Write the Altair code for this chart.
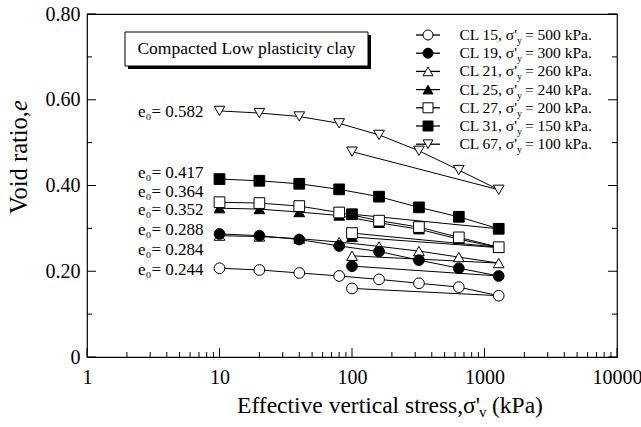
import altair as alt
import pandas as pd

# ---------------- data ----------------
stress = [10, 20, 40, 80, 160, 320, 640, 1280, 100]   # loading path then unloading to 100 kPa

cl15 = [0.207, 0.203, 0.196, 0.189, 0.181, 0.172, 0.163, 0.143, 0.160]
cl19 = [0.287, 0.283, 0.274, 0.259, 0.246, 0.226, 0.207, 0.189, 0.212]
cl21 = [0.283, 0.281, 0.276, 0.268, 0.258, 0.247, 0.233, 0.219, 0.236]
cl25 = [0.347, 0.345, 0.338, 0.330, 0.313, 0.298, 0.275, 0.255, 0.280]
cl27 = [0.361, 0.359, 0.352, 0.337, 0.318, 0.303, 0.279, 0.256, 0.289]
cl31 = [0.415, 0.411, 0.404, 0.391, 0.374, 0.349, 0.327, 0.299, 0.333]
cl67 = [0.574, 0.569, 0.561, 0.545, 0.518, 0.481, 0.436, 0.390, 0.479]

series_names = ["CL 15", "CL 19", "CL 21", "CL 25", "CL 27", "CL 31", "CL 67"]
series_values = [cl15, cl19, cl21, cl25, cl27, cl31, cl67]
sigma_y = ["500", "300", "260", "240", "200", "150", "100"]
shapes = ["circle", "circle", "triangle-up", "triangle-up", "square", "square", "triangle-down"]
fills = ["white", "black", "white", "black", "white", "black", "white"]
draw_order = ["CL 21", "CL 19", "CL 15", "CL 25", "CL 27", "CL 31", "CL 67"]

e0_labels = ["e\u2080= 0.582", "e\u2080= 0.417", "e\u2080= 0.364", "e\u2080= 0.352",
             "e\u2080= 0.288", "e\u2080= 0.284", "e\u2080= 0.244"]
e0_label_y = [0.572, 0.429, 0.386, 0.342, 0.296, 0.250, 0.203]

x_major = [1, 10, 100, 1000, 10000]
x_minor = [m * 10 ** k for k in range(4) for m in range(2, 10)]
y_major = [0, 0.2, 0.4, 0.6, 0.8]
y_minor = [0.1, 0.3, 0.5, 0.7]

FONT = "Liberation Serif"
W, H = 530, 343

rows = []
for name in draw_order:
    vals = series_values[series_names.index(name)]
    for step, (s, e) in enumerate(zip(stress, vals)):
        rows.append({"series": name, "step": step, "stress": s, "e": e})
df = pd.DataFrame(rows)

xs = alt.Scale(type="log", domain=[1, 10000], nice=False)
ys = alt.Scale(domain=[0, 0.8], nice=False, zero=False)
xaxis = alt.Axis(values=x_major, labelExpr="format(datum.value, 'd')", ticks=False,
                 domain=False, grid=False, title=None, labelFont=FONT, labelFontSize=20,
                 labelColor="black", labelPadding=10, labelFlush=False)
yaxis = alt.Axis(values=y_major,
                 labelExpr="datum.value == 0 ? '0' : format(datum.value, '.2f')",
                 ticks=False, domain=False, grid=False, title=None, labelFont=FONT,
                 labelFontSize=20, labelColor="black", labelPadding=7, labelFlush=False)


def X(field="stress"):
    return alt.X(f"{field}:Q", scale=xs, axis=xaxis)


def Y(field="e"):
    return alt.Y(f"{field}:Q", scale=ys, axis=yaxis)


shape_enc = alt.Shape("series:N", scale=alt.Scale(domain=series_names, range=shapes), legend=None)
fill_enc = alt.Fill("series:N", scale=alt.Scale(domain=series_names, range=fills), legend=None)

lines = alt.Chart(df).mark_line(color="black", strokeWidth=1).encode(
    x=X(), y=Y(), detail="series:N", order="step:Q")
points = alt.Chart(df).mark_point(filled=True, stroke="black", strokeWidth=1, size=115,
                                  opacity=1).encode(x=X(), y=Y(), shape=shape_enc, fill=fill_enc)

# inward ticks
xt_major = pd.DataFrame({"stress": x_major})
xt_minor = pd.DataFrame({"stress": x_minor})
yt_major = pd.DataFrame({"e": y_major})
yt_minor = pd.DataFrame({"e": y_minor})
tick_layers = [
    alt.Chart(xt_major).mark_rule(color="black").encode(x=X(), y=alt.value(H), y2=alt.value(H - 9)),
    alt.Chart(xt_minor).mark_rule(color="black").encode(x=X(), y=alt.value(H), y2=alt.value(H - 5)),
    alt.Chart(yt_major).mark_rule(color="black").encode(y=Y(), x=alt.value(0), x2=alt.value(9)),
    alt.Chart(yt_minor).mark_rule(color="black").encode(y=Y(), x=alt.value(0), x2=alt.value(5)),
    alt.Chart(yt_major).mark_rule(color="black").encode(y=Y(), x=alt.value(W), x2=alt.value(W - 9)),
    alt.Chart(yt_minor).mark_rule(color="black").encode(y=Y(), x=alt.value(W), x2=alt.value(W - 5)),
]

# e0 annotations
ann = pd.DataFrame({"label": e0_labels, "e": e0_label_y, "stress": [10] * len(e0_labels)})
ann_layer = alt.Chart(ann).mark_text(align="right", baseline="middle", font=FONT, fontSize=17,
                                     dx=-16, color="black").encode(x=X(), y=Y(), text="label:N")

# title box
one = pd.DataFrame({"t": ["Compacted Low plasticity clay"]})
box_shadow = alt.Chart(one).mark_rect(fill="black").encode(
    x=alt.value(41), x2=alt.value(284), y=alt.value(21), y2=alt.value(55))
box = alt.Chart(one).mark_rect(fill="white", stroke="black", strokeWidth=1).encode(
    x=alt.value(38), x2=alt.value(281), y=alt.value(18), y2=alt.value(52))
box_text = alt.Chart(one).mark_text(font=FONT, fontSize=17.5, color="black", baseline="middle",
                                    align="center").encode(x=alt.value(159.5), y=alt.value(35), text="t:N")

# legend
leg = pd.DataFrame({"series": series_names,
                    "a": [f"{n}, \u03c3'" for n in series_names],
                    "b": [f"= {v} kPa." for v in sigma_y],
                    "row": list(range(len(series_names)))})
legend_layers = []
for i in range(len(series_names)):
    py = 21 + 18.2 * i
    base = alt.Chart(leg).transform_filter(alt.datum.row == i)
    legend_layers += [
        base.mark_rule(color="black", strokeWidth=1.3).encode(x=alt.value(329), x2=alt.value(353), y=alt.value(py)),
        base.mark_point(filled=True, stroke="black", strokeWidth=1, size=100, opacity=1).encode(
            x=alt.value(341), y=alt.value(py), shape=shape_enc, fill=fill_enc),
        base.mark_text(align="right", baseline="middle", font=FONT, fontSize=15.5, color="black").encode(
            x=alt.value(430), y=alt.value(py), text="a:N"),
        base.mark_text(align="left", baseline="top", font=FONT, fontSize=10, color="black").encode(
            x=alt.value(430), y=alt.value(py + 1), text=alt.value("y")),
        base.mark_text(align="left", baseline="middle", font=FONT, fontSize=15.5, color="black").encode(
            x=alt.value(438), y=alt.value(py), text="b:N"),
    ]

# axis titles built from text pieces (italic e, subscript v)
ttl = pd.DataFrame({"a": ["Void ratio,"], "b": ["e"], "c": ["Effective vertical stress,\u03c3'"],
                    "d": ["v"], "f": ["(kPa)"]})
tbase = alt.Chart(ttl)
title_layers = [
    tbase.mark_text(align="right", baseline="middle", angle=270, font=FONT, fontSize=24.5, color="black").encode(
        x=alt.value(-67), y=alt.value(97), text="a:N"),
    tbase.mark_text(align="left", baseline="middle", angle=270, font=FONT, fontSize=24.5, fontStyle="italic",
                    color="black").encode(x=alt.value(-67), y=alt.value(97), text="b:N"),
    tbase.mark_text(align="right", baseline="middle", font=FONT, fontSize=23.5, color="black").encode(
        x=alt.value(393), y=alt.value(392), text="c:N"),
    tbase.mark_text(align="left", baseline="middle", font=FONT, fontSize=15, color="black").encode(
        x=alt.value(392), y=alt.value(398), text="d:N"),
    tbase.mark_text(align="left", baseline="middle", font=FONT, fontSize=23.5, color="black").encode(
        x=alt.value(405), y=alt.value(392), text="f:N"),
]

chart = alt.layer(lines, points, *tick_layers, ann_layer, box_shadow, box, box_text,
                  *legend_layers, *title_layers).properties(
    width=W, height=H,
    padding={"left": 87, "top": 14, "right": 24, "bottom": 70},
    autosize=alt.AutoSizeParams(type="none"),
    background="white",
).configure_view(stroke="black", strokeWidth=1.2).configure_text(font=FONT)

chart.save("out.html", embed_options={"renderer": "svg", "actions": False})
